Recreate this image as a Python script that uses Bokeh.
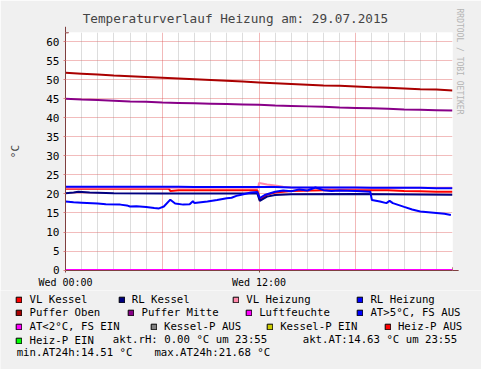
import math
from bokeh.plotting import figure
from bokeh.models import (Range1d, FixedTicker, Label, Legend, LegendItem, Arrow,
                          NormalHead, Title, Grid)
from bokeh.embed import file_html
from bokeh.resources import INLINE

# ---------------- data ----------------
title_text = "Temperaturverlauf Heizung am: 29.07.2015"
y_label = "°C"
watermark = "RRDTOOL / TOBI OETIKER"
y_ticks = [0, 5, 10, 15, 20, 25, 30, 35, 40, 45, 50, 55, 60]
x_tick_hours = [0, 12]
x_tick_labels = ["Wed 00:00", "Wed 12:00"]
major_hours = [0, 6, 12, 18]
minor_hours = [1, 2, 3, 4, 5, 7, 8, 9, 10, 11, 13, 14, 15, 16, 17, 19, 20, 21, 22, 23]

hours = [0, 1, 2, 3, 4, 5, 6, 7, 8, 9, 10, 11, 12, 13, 14, 15, 16, 17, 18, 19, 20, 21, 22, 23, 24]
puffer_oben = [51.8, 51.6, 51.4, 51.1, 50.9, 50.7, 50.5, 50.3, 50.1, 49.9, 49.7, 49.5, 49.3,
               49.1, 48.9, 48.7, 48.5, 48.4, 48.2, 48.0, 47.9, 47.7, 47.5, 47.4, 47.2]
puffer_mitte = [45.0, 44.8, 44.7, 44.5, 44.3, 44.2, 44.0, 43.9, 43.8, 43.7, 43.6, 43.5, 43.4,
                43.2, 43.1, 43.0, 42.9, 42.7, 42.6, 42.5, 42.4, 42.2, 42.1, 42.0, 41.9]
rl_heizung = [21.9, 21.9, 21.9, 21.9, 21.9, 21.9, 21.9, 21.9, 21.8, 21.8, 21.8, 21.8, 21.8,
              21.8, 21.7, 21.7, 21.7, 21.7, 21.7, 21.6, 21.6, 21.6, 21.6, 21.5, 21.5]
luftfeuchte = [0.0] * 25

vl_kessel_t = [0, 3, 6.4, 6.5, 7, 9, 11.9, 12.05, 12.5, 13, 14, 16, 18, 20, 21, 22, 23, 24]
vl_kessel = [21.4, 21.4, 21.4, 20.8, 21.0, 21.0, 21.0, 18.4, 19.8, 20.4, 20.8, 21.0, 21.0,
             21.0, 20.8, 20.7, 20.6, 20.6]

rl_kessel_t = [0, 0.5, 0.8, 1.5, 3, 6, 11.9, 12.05, 12.5, 13, 14, 18, 24]
rl_kessel = [20.2, 20.4, 20.6, 20.4, 20.2, 20.1, 20.1, 18.2, 19.3, 19.7, 19.9, 20.0, 19.8]

vl_heizung_t = [0, 6, 11.95, 12.0, 12.5, 13, 13.5, 14, 18, 24]
vl_heizung = [21.6, 21.6, 21.6, 22.9, 22.5, 22.2, 21.9, 21.7, 21.6, 21.6]

at_t = [0, 0.5, 1, 2, 2.5, 3.4, 3.8, 4.0, 4.4, 5.0, 5.5, 5.8, 6.1, 6.5, 6.8, 7.3, 7.7, 7.9,
        8.0, 8.8, 9.4, 10.0, 10.3, 10.6, 10.9, 11.5, 11.9, 12.05, 12.4, 13, 13.5, 14, 14.5,
        15, 15.5, 16, 16.5, 17, 18, 18.9, 19.0, 19.5, 19.9, 20.1, 20.3, 21.0, 21.5, 22,
        22.5, 23, 23.5, 23.9]
at_vals = [18.0, 17.8, 17.7, 17.5, 17.3, 17.2, 17.0, 16.7, 16.8, 16.6, 16.3, 16.2, 16.7,
           18.5, 17.5, 17.2, 17.3, 18.1, 17.6, 18.0, 18.4, 18.9, 19.0, 19.5, 19.8, 20.4,
           20.5, 18.9, 19.8, 20.6, 20.9, 20.7, 21.2, 20.9, 21.68, 21.0, 20.8, 20.9, 20.8,
           20.6, 18.4, 18.0, 17.6, 18.2, 17.6, 16.6, 15.9, 15.4, 15.2, 15.0, 14.8, 14.5]

legend_names = ["VL Kessel", "RL Kessel", "VL Heizung", "RL Heizung",
                "Puffer Oben", "Puffer Mitte", "Luftfeuchte", "AT>5°C, FS AUS",
                "AT<2°C, FS EIN", "Kessel-P AUS", "Kessel-P EIN", "Heiz-P AUS",
                "Heiz-P EIN"]
legend_colors = ["#FF0000", "#000080", "#FF88AA", "#0000FF",
                 "#AA0000", "#880088", "#FF00FF", "#0000FF",
                 "#FF00FF", "#808080", "#CCCC00", "#FF0000",
                 "#00FF00"]
info_texts = ["akt.rH: 0.00 °C um 23:55", "akt.AT:14.63 °C um 23:55",
              "min.AT24h:14.51 °C", "max.AT24h:21.68 °C"]

# ---------------- layout (reference px -> canvas px) ----------------
W, H = 481, 369
SX, SY = W / 497.0, H / 385.0
FL, FW = 65, 387           # frame left / width
FT, FH = 32, 240           # frame top / height
CH = 290                   # chart figure height
LGH = H - CH               # legend figure height
FONT = "DejaVu Sans Mono"
BG = "#F0F0F0"

p = figure(width=W, height=CH, output_backend="svg", toolbar_location=None,
           x_range=Range1d(0, 24), y_range=Range1d(-0.1, 62.4),
           min_border_left=FL, min_border_right=W - FL - FW,
           min_border_top=FT, min_border_bottom=CH - FT - FH)
p.border_fill_color = BG
p.background_fill_color = "#FFFFFF"
p.outline_line_color = None

# title
p.title.text = title_text
p.title.text_font = FONT
p.title.text_font_size = "12.7px"
p.title.text_font_style = "normal"
p.title.align = "left"
p.title.vertical_align = "top"
p.title.offset = 88 * SX - FL - 3
p.title.standoff = 8.5
p.title.padding = (0, 0, 3, 0)

# watermark on the right
p.add_layout(Title(text=watermark, align="left", text_font=FONT, text_font_size="8px",
                   text_font_style="normal", text_color="#B4B4B4", standoff=5,
                   offset=-24), "right")

# grid: red 6-hourly lines, red horizontal lines, gray hourly lines
p.xgrid.ticker = FixedTicker(ticks=major_hours)
p.xgrid.grid_line_color = "#DE4F4F"
p.xgrid.grid_line_alpha = 0.4
p.ygrid.ticker = FixedTicker(ticks=y_ticks)
p.ygrid.grid_line_color = "#DE4F4F"
p.ygrid.grid_line_alpha = 0.38
p.add_layout(Grid(dimension=0, ticker=FixedTicker(ticks=minor_hours),
                  grid_line_color="#8F8F8F", grid_line_alpha=0.3))

# axes
axis_col = "#7F3F3F"
p.xaxis.ticker = FixedTicker(ticks=x_tick_hours)
p.xaxis.major_label_overrides = {h: l for h, l in zip(x_tick_hours, x_tick_labels)}
p.yaxis.ticker = FixedTicker(ticks=y_ticks)
for ax in (p.xaxis[0], p.yaxis[0]):
    ax.axis_line_color = axis_col
    ax.axis_line_width = 1
    ax.major_tick_in = 0
    ax.major_tick_out = 2
    ax.minor_tick_out = 0
    ax.minor_tick_in = 0
    ax.major_label_text_font = FONT
    ax.major_label_text_color = "#000000"
p.yaxis.major_tick_line_color = "#E08080"
p.xaxis.major_tick_line_color = axis_col
p.yaxis.major_label_text_font_size = "11px"
p.xaxis.major_label_text_font_size = "10px"
p.yaxis.major_label_standoff = 4
p.xaxis.major_label_standoff = 4
p.yaxis.axis_label = y_label
p.yaxis.axis_label_text_font = FONT
p.yaxis.axis_label_text_font_size = "11px"
p.yaxis.axis_label_text_font_style = "normal"
p.yaxis.axis_label_standoff = 21

# data lines (rrdtool draw order)
p.line(vl_kessel_t, vl_kessel, line_color=legend_colors[0], line_width=2)
p.line(rl_kessel_t, rl_kessel, line_color=legend_colors[1], line_width=2)
p.line(vl_heizung_t, vl_heizung, line_color=legend_colors[2], line_width=2)
p.line(hours, rl_heizung, line_color=legend_colors[3], line_width=2)
p.line(hours, puffer_oben, line_color=legend_colors[4], line_width=2)
p.line(hours, puffer_mitte, line_color=legend_colors[5], line_width=2)
p.line(hours, luftfeuchte, line_color=legend_colors[6], line_width=2)
p.line(at_t, at_vals, line_color=legend_colors[7], line_width=2)

# arrows at axis ends
p.add_layout(Arrow(end=NormalHead(size=6, fill_color="#7F1F1F", line_color="#7F1F1F"),
                   x_start=0, y_start=62.4, x_end=0, y_end=63.9,
                   line_color=axis_col, line_width=1))
p.add_layout(Arrow(end=NormalHead(size=6, fill_color="#7F1F1F", line_color="#7F1F1F"),
                   x_start=24, y_start=-0.1, x_end=24.38, y_end=-0.1,
                   line_color=axis_col, line_width=1))

# ---------------- legend panel (separate root; data units = canvas pixels) ----------------
q = figure(width=W, height=LGH, output_backend="svg", toolbar_location=None,
           x_range=Range1d(0, W), y_range=Range1d(LGH, 0),
           x_axis_type=None, y_axis_type=None, min_border=0)
q.border_fill_color = BG
q.background_fill_color = BG
q.outline_line_color = None

leg_pos = [(16, 311), (121.7, 311), (240, 311), (368.3, 311),
           (16, 325), (131.7, 325), (253.3, 325), (368.3, 325),
           (16, 339.3), (155, 339.3), (275, 339.3), (396.7, 339.3),
           (16, 353.3)]
LH = 13
nan = float("nan")
for name, col, (rx, ry) in zip(legend_names, legend_colors, leg_pos):
    sw = q.quad(left=[nan], right=[nan], top=[nan], bottom=[nan], fill_color=col,
                line_color="#000000", line_width=1)
    cx = rx * SX
    top = ry * SY - CH - 5
    lg = Legend(items=[LegendItem(label=name, renderers=[sw])],
                location=(cx, LGH - top - LH),
                orientation="horizontal", padding=0, margin=0, spacing=0,
                glyph_width=7, glyph_height=7, label_standoff=7,
                label_height=LH, label_width=10,
                label_text_font=FONT, label_text_font_size="10.7px",
                label_text_color="#000000",
                background_fill_alpha=0, border_line_alpha=0)
    q.add_layout(lg)

info_pos = [(116, 353.3), (312.3, 353.3), (16.7, 367.7), (159, 367.7)]
for t, (rx, ry) in zip(info_texts, info_pos):
    q.add_layout(Label(x=rx * SX, y=ry * SY - CH, text=t, text_font=FONT,
                       text_font_size="10.7px", text_align="left",
                       text_baseline="middle", text_color="#000000"))

open("out.html", "w").write(file_html([p, q], INLINE))
